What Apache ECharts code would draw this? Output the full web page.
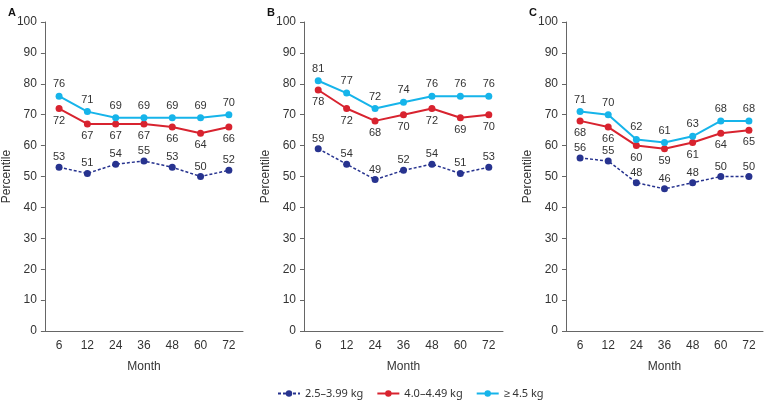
<!DOCTYPE html>
<html>
<head>
<meta charset="utf-8">
<script src="https://cdn.jsdelivr.net/npm/echarts@6/dist/echarts.min.js"></script>
<style>
  html, body { margin: 0; padding: 0; background: #fff; }
  #chart { width: 765px; height: 400px; }
</style>
</head>
<body>
<div id="chart"></div>
<script>
// Data
const months = ['6', '12', '24', '36', '48', '60', '72']
const yTicks = [0, 10, 20, 30, 40, 50, 60, 70, 80, 90, 100]
const panelNames = ['A', 'B', 'C']
const seriesNames = ['2.5\u20133.99 kg', '4.0\u20134.49 kg', '\u2265 4.5 kg']

const lowA = [53, 51, 54, 55, 53, 50, 52]
const midA = [72, 67, 67, 67, 66, 64, 66]
const highA = [76, 71, 69, 69, 69, 69, 70]

const lowB = [59, 54, 49, 52, 54, 51, 53]
const midB = [78, 72, 68, 70, 72, 69, 70]
const highB = [81, 77, 72, 74, 76, 76, 76]

const lowC = [56, 55, 48, 46, 48, 50, 50]
const midC = [68, 66, 60, 59, 61, 64, 65]
const highC = [71, 70, 62, 61, 63, 68, 68]

const panels = [
  [lowA, midA, highA],
  [lowB, midB, highB],
  [lowC, midC, highC]
]

// Styling
const colors = ['#27338f', '#d8232f', '#16b4ea']
const labelDist = [1, 3, 3]
const textColor = '#333'
const axisColor = '#666'
const font = 'Liberation Sans, Arial, sans-serif'
const grids = [
  { left: 44, top: 22, width: 199, height: 309 },
  { left: 304, top: 22, width: 199, height: 309 },
  { left: 566, top: 22, width: 197, height: 309 }
]
const letterX = [3, 262, 524]

const chart = echarts.init(document.getElementById('chart'), null, { renderer: 'canvas' })

const xAxes = grids.map((g, i) => ({
  type: 'category',
  gridIndex: i,
  data: months,
  boundaryGap: true,
  name: 'Month',
  nameLocation: 'middle',
  nameGap: 30,
  nameTextStyle: { color: textColor, fontSize: 12, fontFamily: font },
  axisLine: { lineStyle: { color: axisColor, width: 1 } },
  axisTick: { alignWithLabel: true, length: 4, lineStyle: { color: axisColor } },
  axisLabel: { color: textColor, fontSize: 12, fontFamily: font, margin: 9 },
  splitLine: { show: false }
}))

const yAxes = grids.map((g, i) => ({
  type: 'value',
  gridIndex: i,
  min: yTicks[0],
  max: yTicks[yTicks.length - 1],
  interval: 10,
  name: 'Percentile',
  nameLocation: 'middle',
  nameGap: 29,
  nameTextStyle: { color: textColor, fontSize: 12, fontFamily: font },
  axisLine: { show: true, lineStyle: { color: axisColor, width: 1 } },
  axisTick: { show: true, length: 4, lineStyle: { color: axisColor } },
  axisLabel: { color: textColor, fontSize: 12, fontFamily: font, margin: 8 },
  splitLine: { show: false }
}))

const series = []
panels.forEach((panel, p) => {
  panel.forEach((values, s) => {
    series.push({
      name: seriesNames[s],
      type: 'line',
      xAxisIndex: p,
      yAxisIndex: p,
      data: values,
      symbol: 'circle',
      symbolSize: 7,
      color: colors[s],
      lineStyle: {
        color: colors[s],
        width: s === 0 ? 1.5 : 2,
        type: s === 0 ? [3, 2] : 'solid'
      },
      itemStyle: { color: colors[s] },
      label: {
        show: true,
        position: s === 1 ? 'bottom' : 'top',
        distance: labelDist[s],
        color: textColor,
        fontSize: 11,
        fontFamily: font
      },
      animation: false
    })
  })
})

chart.setOption({
  backgroundColor: '#fff',
  animation: false,
  title: panelNames.map((n, i) => ({
    text: n,
    left: letterX[i],
    top: 2,
    textStyle: { color: '#111', fontSize: 11, fontWeight: 'bold', fontFamily: font }
  })),
  legend: {
    data: seriesNames,
    left: 277,
    top: 388,
    padding: 0,
    itemWidth: 22,
    itemHeight: 8,
    itemGap: 13,
    textStyle: { color: textColor, fontSize: 11, fontFamily: 'Noto Sans, sans-serif' }
  },
  grid: grids,
  xAxis: xAxes,
  yAxis: yAxes,
  series: series
})
</script>
</body>
</html>
